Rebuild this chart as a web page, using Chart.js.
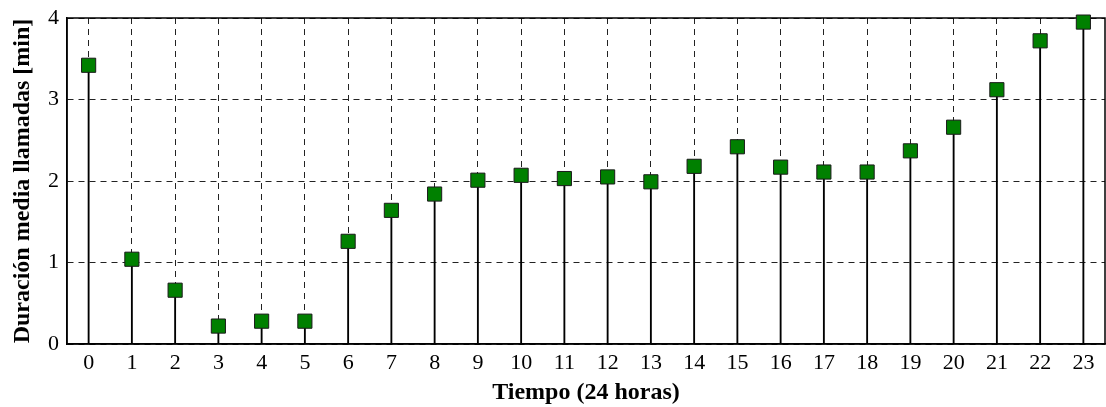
<!DOCTYPE html>
<html>
<head>
<meta charset="utf-8">
<title>Duración media llamadas</title>
<script src="https://cdn.jsdelivr.net/npm/chart.js@4/dist/chart.umd.min.js"></script>
<style>
  html, body { margin: 0; padding: 0; background: #fff; }
  #wrap { width: 1106px; height: 407px; }
</style>
</head>
<body>
<div id="wrap"><canvas id="callChart" width="1106" height="407"></canvas></div>
<script>
// horas del día y duración media (min)
const horas = [0, 1, 2, 3, 4, 5, 6, 7, 8, 9, 10, 11, 12, 13, 14, 15, 16, 17, 18, 19, 20, 21, 22, 23];
const duracion = [3.42, 1.04, 0.66, 0.22, 0.28, 0.28, 1.26, 1.64, 1.84, 2.01, 2.07, 2.03,
                  2.05, 1.99, 2.18, 2.42, 2.17, 2.11, 2.11, 2.37, 2.66, 3.12, 3.72, 3.95];
const yTicks = [0, 1, 2, 3, 4];

const puntos = horas.map((h, i) => ({ x: h, y: duracion[i] }));

const serif = "'Liberation Serif', 'Times New Roman', serif";
const gridDash = [6, 5];

// caja completa alrededor del área de datos (estilo "box on")
const boxPlugin = {
  id: 'box',
  beforeDatasetsDraw(chart) {
    const { ctx, chartArea: a } = chart;
    ctx.save();
    ctx.strokeStyle = '#000';
    ctx.lineWidth = 1.5;
    ctx.strokeRect(a.left, a.top, a.right - a.left, a.bottom - a.top);
    ctx.restore();
  }
};

const ctx = document.getElementById('callChart').getContext('2d');
new Chart(ctx, {
  data: {
    datasets: [
      {
        // marcadores cuadrados
        type: 'scatter',
        data: puntos,
        pointStyle: 'rect',
        pointRadius: 10,
        pointHoverRadius: 10,
        backgroundColor: '#008000',
        borderColor: '#1a1a1a',
        borderWidth: 1,
        showLine: false,
        clip: false,
        order: 0
      },
      {
        // tallos desde cero
        type: 'bar',
        data: puntos,
        backgroundColor: '#000',
        barThickness: 1.2,
        order: 1
      }
    ]
  },
  plugins: [boxPlugin],
  options: {
    responsive: false,
    animation: false,
    layout: { autoPadding: false, padding: { top: 18, right: 1, left: 0, bottom: 0 } },
    plugins: {
      legend: { display: false },
      tooltip: { enabled: false }
    },
    scales: {
      x: {
        type: 'linear',
        min: -0.5,
        max: 23.5,
        offset: false,
        afterBuildTicks: s => { s.ticks = horas.map(v => ({ value: v })); },
        afterFit: s => { s.height = 63; s.paddingLeft = 0; s.paddingRight = 0; },
        grid: { color: '#222', lineWidth: 1, drawTicks: false, offset: false },
        border: { display: true, color: '#000', width: 1.5, dash: gridDash },
        ticks: {
          color: '#000',
          padding: 6,
          maxRotation: 0,
          autoSkip: false,
          font: { family: serif, size: 22 }
        },
        title: {
          display: true,
          text: 'Tiempo (24 horas)',
          color: '#000',
          font: { family: serif, size: 24, weight: 'bold', lineHeight: 1.2 },
          padding: { top: 0, bottom: 0 }
        }
      },
      y: {
        type: 'linear',
        min: 0,
        max: 4,
        afterBuildTicks: s => { s.ticks = yTicks.map(v => ({ value: v })); },
        afterFit: s => { s.width = 67; s.paddingTop = 0; s.paddingBottom = 0; },
        grid: { color: '#222', lineWidth: 1, drawTicks: false },
        border: { display: true, color: '#000', width: 1.5, dash: gridDash },
        ticks: {
          color: '#000',
          padding: 8,
          font: { family: serif, size: 22 }
        },
        title: {
          display: true,
          text: 'Duración media llamadas [min]',
          color: '#000',
          font: { family: serif, size: 24, weight: 'bold', lineHeight: 1.2 },
          padding: { top: 8, bottom: 0 }
        }
      }
    }
  }
});
</script>
</body>
</html>
